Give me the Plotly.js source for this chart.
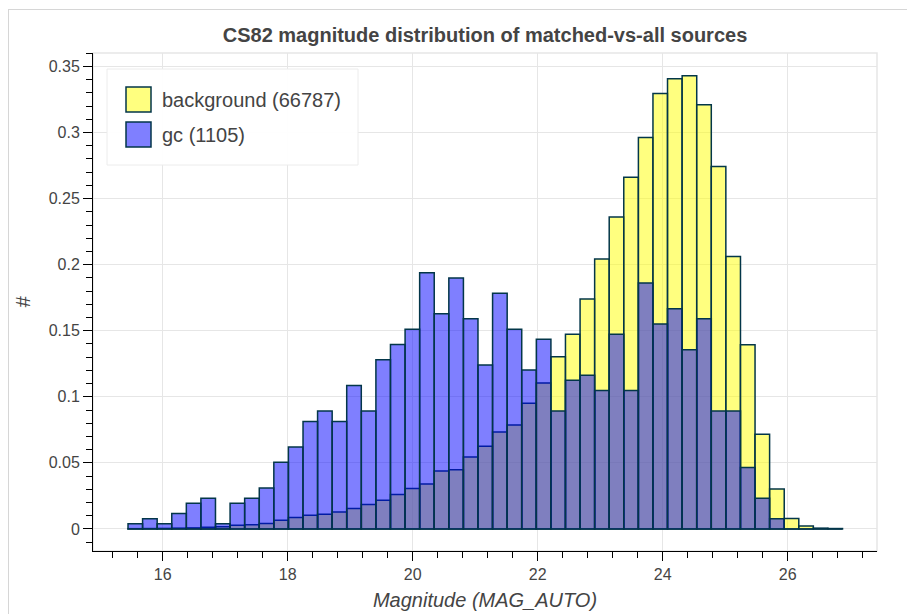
<!DOCTYPE html>
<html>
<head>
<meta charset="utf-8">
<script src="https://cdn.plot.ly/plotly-3.0.1.min.js"></script>
<style>
  html, body { margin: 0; padding: 0; background: #ffffff; }
  #frame { position: absolute; left: 8px; top: 9px; width: 1200px; height: 1200px; border: 1px solid #d6d6d6; }
  #chart { position: absolute; left: 0; top: 0; width: 907px; height: 614px; }
</style>
</head>
<body>
<div id="frame"></div>
<div id="chart"></div>
<script>
// ---- data ----
const chartTitle = "CS82 magnitude distribution of matched-vs-all sources";
const xTitle = "Magnitude (MAG_AUTO)";
const yTitle = "#";
const seriesNames = ["background (66787)", "gc (1105)"];

// centres of the 49 magnitude bins
const binCenters = [
  15.563, 15.796, 16.029, 16.263, 16.496, 16.729, 16.963, 17.196, 17.429, 17.663,
  17.896, 18.129, 18.363, 18.596, 18.829, 19.062, 19.296, 19.529, 19.762, 19.996,
  20.229, 20.462, 20.696, 20.929, 21.162, 21.396, 21.629, 21.862, 22.096, 22.329,
  22.562, 22.796, 23.029, 23.262, 23.495, 23.729, 23.962, 24.195, 24.429, 24.662,
  24.895, 25.129, 25.362, 25.595, 25.829, 26.062, 26.295, 26.528, 26.762
];
const binWidth = 0.2333;

const backgroundValues = [
  0.0002, 0.0003, 0.0004, 0.0006, 0.0008, 0.0012, 0.0017, 0.0028, 0.0032, 0.0042,
  0.0066, 0.0086, 0.0104, 0.0112, 0.0129, 0.0154, 0.0185, 0.0217, 0.0260, 0.0306,
  0.0341, 0.0439, 0.0447, 0.0545, 0.0626, 0.0733, 0.0786, 0.0952, 0.1104, 0.1303,
  0.1473, 0.1740, 0.2043, 0.2361, 0.2662, 0.2962, 0.3295, 0.3407, 0.3430, 0.3210,
  0.2743, 0.2061, 0.1394, 0.0717, 0.0303, 0.0079, 0.0023, 0.0006, 0.0003
];
const gcValues = [
  0.0039, 0.0078, 0.0039, 0.0116, 0.0194, 0.0233, 0.0039, 0.0194, 0.0233, 0.0310,
  0.0504, 0.0620, 0.0814, 0.0892, 0.0814, 0.1086, 0.0892, 0.1280, 0.1396, 0.1512,
  0.1938, 0.1628, 0.1900, 0.1590, 0.1241, 0.1784, 0.1512, 0.1202, 0.1435, 0.0892,
  0.1125, 0.1163, 0.1047, 0.1473, 0.1047, 0.1861, 0.1551, 0.1667, 0.1357, 0.1590,
  0.0892, 0.0892, 0.0465, 0.0233, 0.0078, 0, 0, 0, 0
];

// ---- styles ----
const FONT = "Liberation Sans, Arial, Helvetica, sans-serif";
const TXT = "#444444";
const LINE = "#033649";
const fills = ["rgba(255,255,0,0.5)", "rgba(0,0,255,0.5)"];

const traces = [
  { type: "bar", x: binCenters, y: backgroundValues, width: binWidth, name: seriesNames[0],
    marker: { color: fills[0], line: { color: LINE, width: 1.5 } }, hoverinfo: "x+y" },
  { type: "bar", x: binCenters, y: gcValues, width: binWidth, name: seriesNames[1],
    marker: { color: fills[1], line: { color: LINE, width: 1.5 } }, hoverinfo: "x+y" }
];

// plot-area geometry (pixels) for the hand-built legend
const W = 907, H = 614, mL = 93, mR = 30, mT = 53, mB = 63;
const pw = W - mL - mR, ph = H - mT - mB;
const px = v => (v - mL) / pw;
const py = v => (H - mB - v) / ph;

const shapes = [
  // frame outline (top/right light grey)
  { type: "rect", xref: "paper", yref: "paper", x0: 0, x1: 1, y0: 0, y1: 1,
    line: { color: "#e6e6e6", width: 1.5 }, layer: "below" },
  // legend box
  { type: "rect", xref: "paper", yref: "paper", x0: px(107), x1: px(358), y0: py(165), y1: py(69),
    fillcolor: "rgba(255,255,255,0.95)", line: { color: "#ececec", width: 1 }, layer: "above" },
  { type: "rect", xref: "paper", yref: "paper", x0: px(126), x1: px(151), y0: py(112), y1: py(87),
    fillcolor: fills[0], line: { color: LINE, width: 1.5 }, layer: "above" },
  { type: "rect", xref: "paper", yref: "paper", x0: px(126), x1: px(151), y0: py(147), y1: py(122),
    fillcolor: fills[1], line: { color: LINE, width: 1.5 }, layer: "above" }
];
const annotations = [
  { xref: "paper", yref: "paper", x: px(160), y: py(99.5), xanchor: "left", yanchor: "middle",
    text: seriesNames[0], showarrow: false, font: { family: FONT, size: 20, color: TXT } },
  { xref: "paper", yref: "paper", x: px(160), y: py(134.5), xanchor: "left", yanchor: "middle",
    text: seriesNames[1], showarrow: false, font: { family: FONT, size: 20, color: TXT } }
];

const layout = {
  width: W, height: H,
  margin: { l: mL, r: mR, t: mT, b: mB, pad: 0 },
  paper_bgcolor: "rgba(0,0,0,0)",
  plot_bgcolor: "#ffffff",
  barmode: "overlay",
  showlegend: false,
  font: { family: FONT, color: TXT },
  title: { text: "<b>" + chartTitle + "</b>", font: { family: FONT, size: 20, color: TXT },
           x: 0.5, xref: "paper", xanchor: "center", y: 1 - 35 / H, yref: "container", yanchor: "middle" },
  xaxis: {
    range: [14.886, 27.43], tickmode: "linear", tick0: 0, dtick: 2,
    ticks: "outside", ticklen: 9, tickwidth: 1, tickcolor: "#000",
    showline: true, linecolor: "#000", linewidth: 1, mirror: false,
    showgrid: true, gridcolor: "#e6e6e6", gridwidth: 1, zeroline: false,
    tickfont: { family: FONT, size: 16, color: TXT },
    minor: { tick0: 0, dtick: 0.4, ticks: "outside", ticklen: 6, tickwidth: 1, tickcolor: "#000", showgrid: false },
    title: { text: "<i>" + xTitle + "</i>", font: { family: FONT, size: 20, color: TXT }, standoff: 10 },
    automargin: false, fixedrange: true
  },
  yaxis: {
    range: [-0.0167, 0.3602], tickmode: "linear", tick0: 0, dtick: 0.05,
    ticks: "outside", ticklen: 9, tickwidth: 1, tickcolor: "#000",
    showline: true, linecolor: "#000", linewidth: 1, mirror: false,
    showgrid: true, gridcolor: "#e6e6e6", gridwidth: 1, zeroline: false,
    tickfont: { family: FONT, size: 16, color: TXT },
    minor: { tick0: 0, dtick: 0.01, ticks: "outside", ticklen: 6, tickwidth: 1, tickcolor: "#000", showgrid: false },
    title: { text: "<i>" + yTitle + "</i>", font: { family: FONT, size: 20, color: TXT }, standoff: 12 },
    automargin: false, fixedrange: true
  },
  shapes: shapes,
  annotations: annotations
};

Plotly.newPlot("chart", traces, layout, { displayModeBar: false, responsive: false });
</script>
</body>
</html>
